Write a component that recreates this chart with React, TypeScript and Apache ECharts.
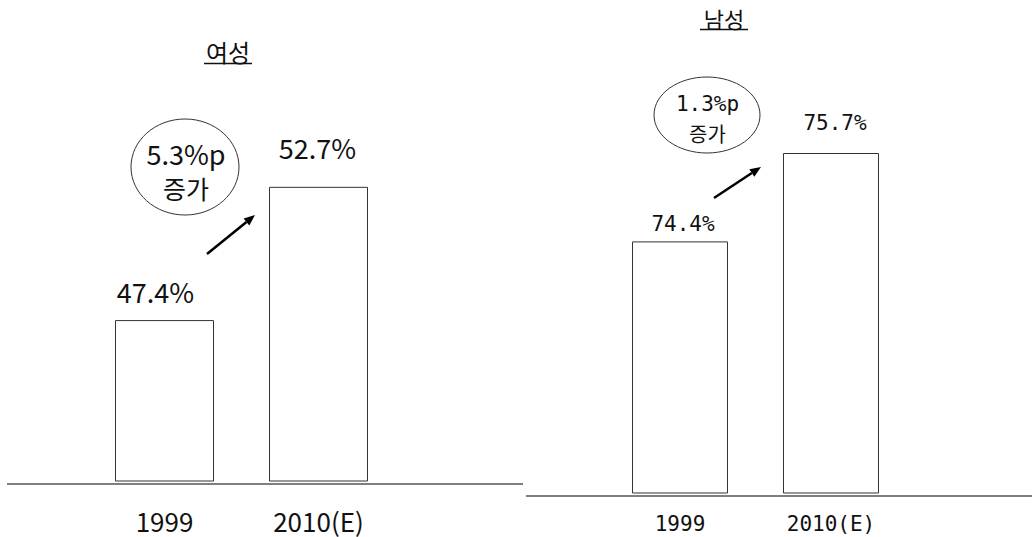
import React, { useEffect, useRef } from "react";
import * as echarts from "echarts";

const categories = ["1999", "2010(E)"];
const femaleValues = [47.4, 52.7];
const maleValues = [74.4, 75.7];
const femaleTitle = "여성";
const maleTitle = "남성";
const femaleNote = ["5.3%p", "증가"];
const maleNote = ["1.3%p", "증가"];

const FONT_L = "'Noto Sans CJK KR', 'Noto Sans', sans-serif";
const FONT_R = "'DejaVu Sans Mono', 'Noto Sans CJK KR', monospace";

function arrowHead(x1: number, y1: number, x2: number, y2: number, len: number, half: number) {
  const dx = x2 - x1;
  const dy = y2 - y1;
  const L = Math.sqrt(dx * dx + dy * dy);
  const ux = dx / L;
  const uy = dy / L;
  const bx = x2 - ux * len;
  const by = y2 - uy * len;
  const px = -uy;
  const py = ux;
  return {
    base: [bx, by],
    points: [
      [x2, y2],
      [bx + px * half, by + py * half],
      [bx - px * half, by - py * half],
    ],
  };
}

export default function App() {
  const ref = useRef<HTMLDivElement>(null);

  useEffect(() => {
    if (!ref.current) return;
    const chart = echarts.init(ref.current, null, { renderer: "svg" });

    const fDist = [15.5, 25.5];
    const fOff = [-9, -1];
    const mDist = [6.5, 19.5];
    const mOff = [3, 4];

    const a1 = arrowHead(207, 254, 255, 215, 11, 4.5);
    const a2 = arrowHead(714, 198, 761, 167, 11, 4.5);

    const option: any = {
      animation: false,
      backgroundColor: "#ffffff",
      grid: [
        { left: 87.5, top: 129, height: 352, width: 308 },
        { left: 604.5, top: 17, height: 476, width: 302 },
      ],
      xAxis: [
        {
          type: "category",
          gridIndex: 0,
          data: categories,
          axisLine: { show: false },
          axisTick: { show: false },
          axisLabel: { margin: 26, fontSize: 26, lineHeight: 26, color: "#111", fontFamily: FONT_L },
        },
        {
          type: "category",
          gridIndex: 1,
          data: categories,
          axisLine: { show: false },
          axisTick: { show: false },
          axisLabel: { margin: 20, fontSize: 21, lineHeight: 21, color: "#111", fontFamily: FONT_R },
        },
      ],
      yAxis: [
        { type: "value", gridIndex: 0, min: 41, max: 55, show: false, splitLine: { show: false } },
        { type: "value", gridIndex: 1, min: 70.7, max: 77.7, show: false, splitLine: { show: false } },
      ],
      series: [
        {
          type: "bar",
          xAxisIndex: 0,
          yAxisIndex: 0,
          barWidth: 99,
          itemStyle: { color: "#ffffff", borderColor: "#333", borderWidth: 1 },
          label: {
            show: true,
            position: "top",
            formatter: "{c}%",
            fontSize: 27,
            color: "#111",
            fontFamily: FONT_L,
          },
          data: femaleValues.map((v, i) => ({
            value: v,
            label: { distance: fDist[i], offset: [fOff[i], 0] },
          })),
        },
        {
          type: "bar",
          xAxisIndex: 1,
          yAxisIndex: 1,
          barWidth: 96,
          itemStyle: { color: "#ffffff", borderColor: "#333", borderWidth: 1 },
          label: {
            show: true,
            position: "top",
            formatter: "{c}%",
            fontSize: 21,
            color: "#111",
            fontFamily: FONT_R,
          },
          data: maleValues.map((v, i) => ({
            value: v,
            label: { distance: mDist[i], offset: [mOff[i], 0] },
          })),
        },
      ],
      graphic: [
        // baselines
        { type: "line", shape: { x1: 7, y1: 484, x2: 523, y2: 484 }, style: { stroke: "#555", lineWidth: 1.3 } },
        { type: "line", shape: { x1: 526, y1: 496, x2: 1032, y2: 496 }, style: { stroke: "#555", lineWidth: 1.3 } },
        // titles
        {
          type: "text",
          x: 228,
          y: 51,
          style: { text: femaleTitle, fontSize: 24, fontFamily: FONT_L, fill: "#111", align: "center", verticalAlign: "middle" },
        },
        { type: "line", shape: { x1: 204, y1: 63.5, x2: 252, y2: 63.5 }, style: { stroke: "#111", lineWidth: 1.3 } },
        {
          type: "text",
          x: 724,
          y: 18,
          style: { text: maleTitle, fontSize: 22, fontFamily: FONT_L, fill: "#111", align: "center", verticalAlign: "middle" },
        },
        { type: "line", shape: { x1: 700, y1: 29.5, x2: 748, y2: 29.5 }, style: { stroke: "#111", lineWidth: 1.3 } },
        // ellipses
        {
          type: "ellipse",
          shape: { cx: 185, cy: 167, rx: 54, ry: 48 },
          style: { fill: "none", stroke: "#333", lineWidth: 1 },
        },
        {
          type: "text",
          x: 186,
          y: 153,
          style: { text: femaleNote[0], fontSize: 27, fontFamily: FONT_L, fill: "#111", align: "center", verticalAlign: "middle" },
        },
        {
          type: "text",
          x: 186,
          y: 188,
          style: { text: femaleNote[1], fontSize: 25, fontFamily: FONT_L, fill: "#111", align: "center", verticalAlign: "middle" },
        },
        {
          type: "ellipse",
          shape: { cx: 707, cy: 115, rx: 53, ry: 38 },
          style: { fill: "none", stroke: "#333", lineWidth: 1 },
        },
        {
          type: "text",
          x: 707.5,
          y: 104,
          style: { text: maleNote[0], fontSize: 21, fontFamily: FONT_R, fill: "#111", align: "center", verticalAlign: "middle" },
        },
        {
          type: "text",
          x: 707.5,
          y: 133,
          style: { text: maleNote[1], fontSize: 20, fontFamily: FONT_L, fill: "#111", align: "center", verticalAlign: "middle" },
        },
        // arrows
        {
          type: "line",
          shape: { x1: 207, y1: 254, x2: a1.base[0], y2: a1.base[1] },
          style: { stroke: "#000", lineWidth: 2.5 },
        },
        { type: "polygon", shape: { points: a1.points }, style: { fill: "#000" } },
        {
          type: "line",
          shape: { x1: 714, y1: 198, x2: a2.base[0], y2: a2.base[1] },
          style: { stroke: "#000", lineWidth: 2.5 },
        },
        { type: "polygon", shape: { points: a2.points }, style: { fill: "#000" } },
      ],
    };

    chart.setOption(option);
    return () => chart.dispose();
  }, []);

  return (
    <div
      ref={ref}
      style={{ position: "absolute", left: 0, top: 0, width: 1032, height: 537, background: "#fff" }}
    />
  );
}
